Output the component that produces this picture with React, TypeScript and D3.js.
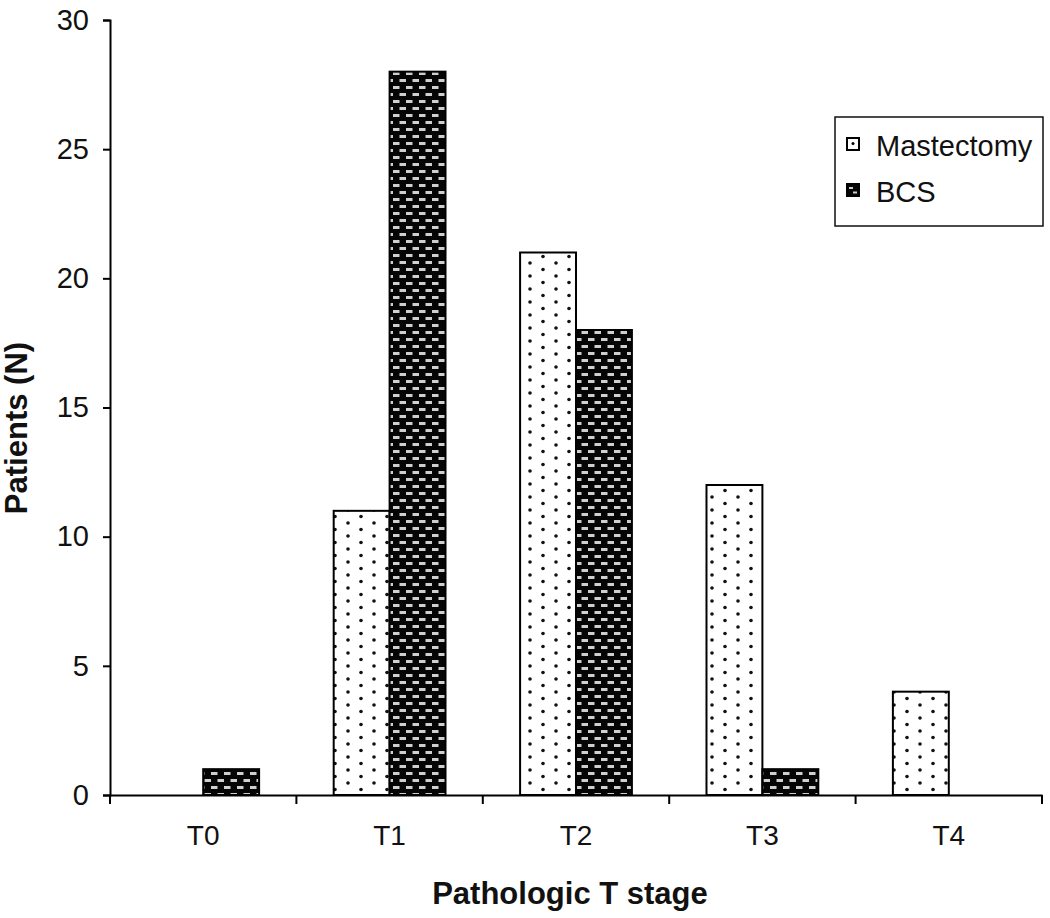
import React, { useEffect, useRef } from 'react';
import * as d3 from 'd3';

const categories = ['T0', 'T1', 'T2', 'T3', 'T4'];
const seriesNames = ['Mastectomy', 'BCS'];
const mastectomy = [0, 11, 21, 12, 4];
const bcs = [1, 28, 18, 1, 0];
const yTicks = [0, 5, 10, 15, 20, 25, 30];

const WIDTH = 1050;
const HEIGHT = 918;

const App: React.FC = () => {
  const svgRef = useRef<SVGSVGElement>(null);

  useEffect(() => {
    document.body.style.margin = '0';
    if (!svgRef.current) return;
    const svg = d3.select(svgRef.current);
    svg.selectAll('*').remove();

    const font = '"Liberation Sans", Arial, sans-serif';
    const left = 110;
    const right = 1042;
    const top = 20;
    const bottom = 795;

    const x = d3.scaleBand<string>().domain(categories).range([left, right]);
    const xInner = d3
      .scaleBand<string>()
      .domain(seriesNames)
      .range([0, x.bandwidth()])
      .paddingOuter(0.667);
    const y = d3.scaleLinear().domain([0, 30]).range([bottom, top]);

    // patterns
    const defs = svg.append('defs');
    const dots = defs
      .append('pattern')
      .attr('id', 'dots')
      .attr('patternUnits', 'userSpaceOnUse')
      .attr('width', 26)
      .attr('height', 13)
      .attr('x', 4)
      .attr('y', 0);
    dots.append('rect').attr('width', 26).attr('height', 13).attr('fill', '#fff');
    dots.append('circle').attr('cx', 6).attr('cy', 3).attr('r', 1.8).attr('fill', '#111');
    dots.append('circle').attr('cx', 19).attr('cy', 9.5).attr('r', 1.8).attr('fill', '#111');

    const bricks = defs
      .append('pattern')
      .attr('id', 'bricks')
      .attr('patternUnits', 'userSpaceOnUse')
      .attr('width', 13)
      .attr('height', 14)
      .attr('x', 0)
      .attr('y', 0);
    bricks.append('rect').attr('width', 13).attr('height', 14).attr('fill', '#050505');
    bricks.append('rect').attr('x', 3).attr('y', 2).attr('width', 6.5).attr('height', 3).attr('fill', '#cfcfcf');
    bricks.append('rect').attr('x', 9.5).attr('y', 9).attr('width', 6.5).attr('height', 3).attr('fill', '#cfcfcf');
    bricks.append('rect').attr('x', -3.5).attr('y', 9).attr('width', 6.5).attr('height', 3).attr('fill', '#cfcfcf');

    const series = [
      { name: 'Mastectomy', values: mastectomy, fill: 'url(#dots)' },
      { name: 'BCS', values: bcs, fill: 'url(#bricks)' },
    ];

    // bars
    series.forEach((s) => {
      svg
        .append('g')
        .selectAll('rect')
        .data(categories.map((c, i) => ({ c, v: s.values[i] })).filter((d) => d.v > 0))
        .join('rect')
        .attr('x', (d) => (x(d.c) as number) + (xInner(s.name) as number))
        .attr('y', (d) => y(d.v))
        .attr('width', xInner.bandwidth())
        .attr('height', (d) => y(0) - y(d.v))
        .attr('fill', s.fill)
        .attr('stroke', '#000')
        .attr('stroke-width', 2);
    });

    // y axis
    const yAxis = svg
      .append('g')
      .attr('transform', `translate(${left},0)`)
      .call(d3.axisLeft(y).tickValues(yTicks).tickSize(7).tickPadding(14).tickFormat(d3.format('d')));
    yAxis.select('.domain').attr('stroke', '#000').attr('stroke-width', 2);
    yAxis.selectAll('.tick line').attr('stroke', '#000').attr('stroke-width', 2);
    yAxis
      .selectAll('.tick text')
      .attr('font-family', font)
      .attr('font-size', 29)
      .attr('fill', '#111');

    // x axis
    const xAxis = svg
      .append('g')
      .attr('transform', `translate(0,${bottom})`)
      .call(d3.axisBottom(x).tickSize(0).tickPadding(30));
    xAxis.select('.domain').attr('stroke', '#000').attr('stroke-width', 2);
    xAxis
      .selectAll('.tick text')
      .attr('font-family', font)
      .attr('font-size', 28)
      .attr('fill', '#111');
    xAxis
      .selectAll('line.boundary')
      .data([...categories.map((c) => x(c) as number), right])
      .join('line')
      .attr('class', 'boundary')
      .attr('x1', (d) => d)
      .attr('x2', (d) => d)
      .attr('y1', 0)
      .attr('y2', 9)
      .attr('stroke', '#000')
      .attr('stroke-width', 2);

    // axis titles
    svg
      .append('text')
      .attr('x', (left + right) / 2 - 6)
      .attr('y', 904)
      .attr('text-anchor', 'middle')
      .attr('font-family', font)
      .attr('font-size', 31)
      .attr('font-weight', 'bold')
      .attr('fill', '#111')
      .text('Pathologic T stage');

    svg
      .append('text')
      .attr('transform', `translate(27,${428}) rotate(-90)`)
      .attr('text-anchor', 'middle')
      .attr('font-family', font)
      .attr('font-size', 31)
      .attr('font-weight', 'bold')
      .attr('fill', '#111')
      .text('Patients (N)');

    // legend
    const legend = svg.append('g').attr('transform', 'translate(835,117)');
    legend
      .append('rect')
      .attr('width', 208)
      .attr('height', 109)
      .attr('fill', '#fff')
      .attr('stroke', '#111')
      .attr('stroke-width', 1.5);

    const swatchFills = ['#fff', '#050505'];
    seriesNames.forEach((name, i) => {
      const row = legend.append('g').attr('transform', `translate(12,${21 + i * 46})`);
      row
        .append('rect')
        .attr('width', 12)
        .attr('height', 12)
        .attr('fill', swatchFills[i])
        .attr('stroke', '#000')
        .attr('stroke-width', 2);
      if (i === 0) {
        row.append('circle').attr('cx', 6).attr('cy', 5.5).attr('r', 1.5).attr('fill', '#000');
      } else {
        row.append('rect').attr('x', 2).attr('y', 3).attr('width', 4).attr('height', 2).attr('fill', '#ccc');
        row.append('rect').attr('x', 6).attr('y', 7.5).attr('width', 4).attr('height', 2).attr('fill', '#ccc');
      }
      row
        .append('text')
        .attr('x', 29)
        .attr('y', 18)
        .attr('font-family', font)
        .attr('font-size', 29)
        .attr('fill', '#111')
        .text(name);
    });
  }, []);

  return <svg ref={svgRef} width={WIDTH} height={HEIGHT} style={{ display: 'block', background: '#fff' }} />;
};

export default App;
